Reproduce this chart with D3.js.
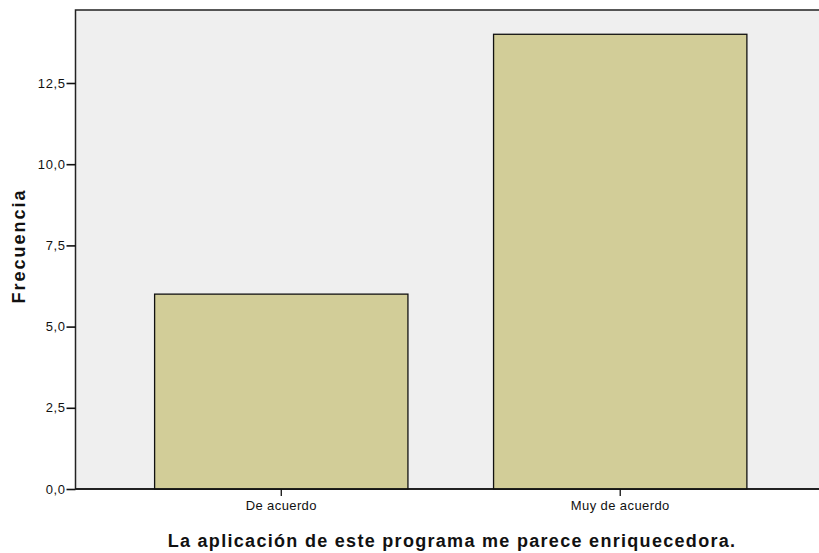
<!DOCTYPE html>
<html>
<head>
<meta charset="utf-8">
<script src="https://cdn.jsdelivr.net/npm/d3@7"></script>
<style>
body { margin: 0; background: #fff; }
text { font-family: "Liberation Sans", Arial, sans-serif; }
</style>
</head>
<body>
<div id="chart"></div>
<script>
// data
var categories = ["De acuerdo", "Muy de acuerdo"];
var frecuencia = [6, 14];
var yTicks = [0, 2.5, 5, 7.5, 10, 12.5];

var width = 819, height = 553;
var plotLeft = 75.5, plotTop = 10, plotBottom = 489, plotRight = 826;

var svg = d3.select("#chart").append("svg")
    .attr("width", width).attr("height", height);

var y = d3.scaleLinear()
    .domain([0, 12.5])
    .range([plotBottom, 83]);

var x = d3.scaleBand()
    .domain(categories)
    .range([plotLeft, plotRight])
    .paddingInner(0.2526)
    .paddingOuter(0.2334);

// plot background
svg.append("rect")
    .attr("x", plotLeft).attr("y", plotTop)
    .attr("width", plotRight - plotLeft).attr("height", plotBottom - plotTop)
    .style("fill", "#efefef")
    .style("stroke", "#222")
    .style("stroke-width", 1.5);

// bars
svg.append("g").selectAll("rect")
    .data(frecuencia)
    .enter()
    .append("rect")
    .attr("x", function(d, i) { return x(categories[i]); })
    .attr("y", function(d) { return y(d); })
    .attr("width", x.bandwidth())
    .attr("height", function(d) { return y(0) - y(d); })
    .style("fill", "#d2cd98")
    .style("stroke", "#111")
    .style("stroke-width", 1.3);

// y axis
var yAxis = d3.axisLeft(y)
    .tickValues(yTicks)
    .tickSize(9)
    .tickPadding(1)
    .tickFormat(function(d) { return d3.format(".1f")(d).replace(".", ","); });

var gy = svg.append("g")
    .attr("transform", "translate(" + plotLeft + ",0)")
    .call(yAxis);
gy.select(".domain").remove();
gy.selectAll("line").style("stroke", "#111").style("stroke-width", 1.6);
gy.selectAll("text").style("font-size", "13px").style("letter-spacing", "0.6px").style("fill", "#111");

// x axis
var xAxis = d3.axisBottom(x).tickSize(7).tickPadding(5);
var gx = svg.append("g")
    .attr("transform", "translate(0," + plotBottom + ")")
    .call(xAxis);
gx.select(".domain").remove();
gx.selectAll("line").style("stroke", "#111").style("stroke-width", 1.3);
gx.selectAll("text").style("font-size", "13px").style("letter-spacing", "0.4px").style("fill", "#111");

// bottom axis line
svg.append("line")
    .attr("x1", plotLeft).attr("x2", plotRight)
    .attr("y1", plotBottom).attr("y2", plotBottom)
    .style("stroke", "#111").style("stroke-width", 1.5);

// titles
svg.append("text")
    .attr("x", 452).attr("y", 547)
    .attr("text-anchor", "middle")
    .style("font-size", "18px").style("font-weight", "bold").style("letter-spacing", "1.3px").style("fill", "#111")
    .text("La aplicación de este programa me parece enriquecedora.");

svg.append("text")
    .attr("transform", "translate(25,246) rotate(-90)")
    .attr("text-anchor", "middle")
    .style("font-size", "18px").style("font-weight", "bold").style("letter-spacing", "2px").style("fill", "#111")
    .text("Frecuencia");
</script>
</body>
</html>
